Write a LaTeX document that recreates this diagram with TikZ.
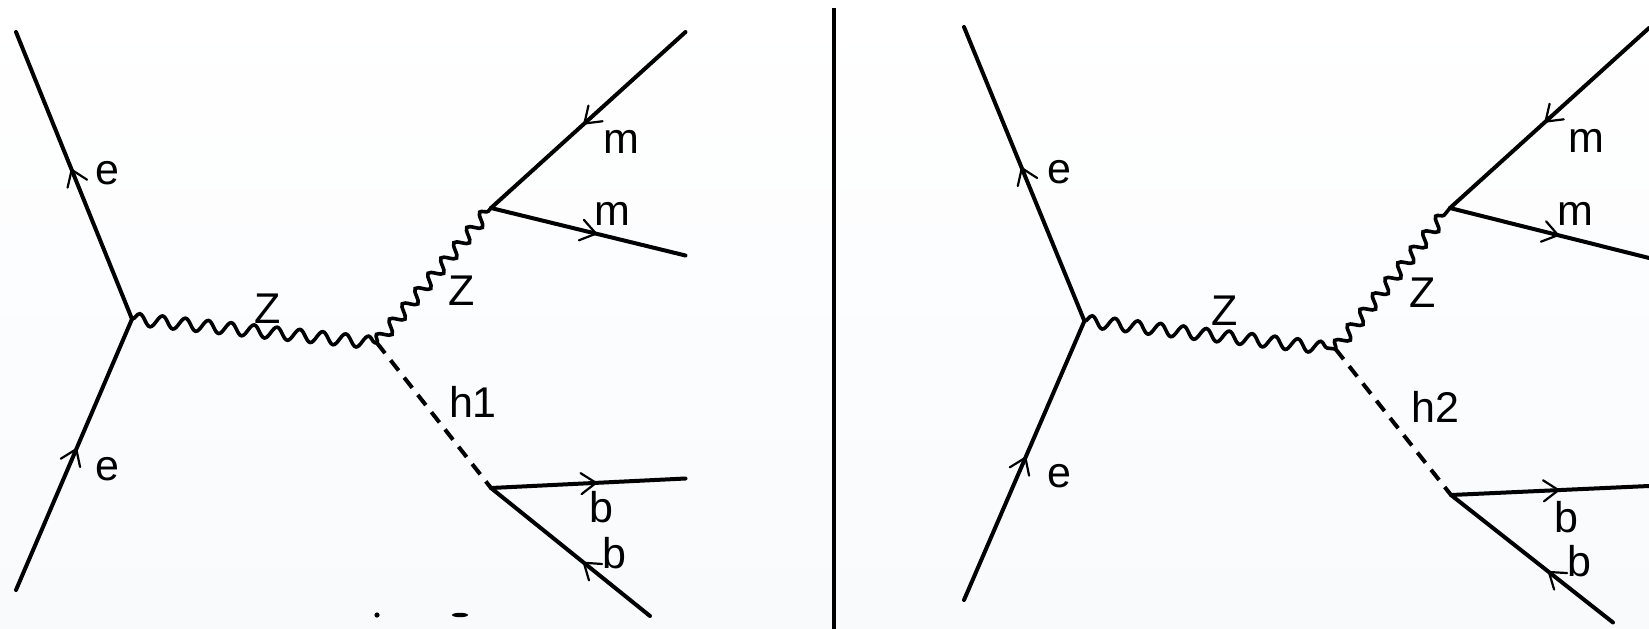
\documentclass[tikz,border=0pt]{standalone}
\usepackage{fontspec}
\setmainfont{Liberation Sans}
\usetikzlibrary{decorations.markings,decorations.pathmorphing}
\definecolor{bgbottom}{HTML}{F8FAFC}
\tikzset{
  x=1pt,y=-1pt,
  fermion/.style={line width=4pt,line cap=round,draw=black,postaction={decorate},
    decoration={markings,mark=at position #1 with {
      \draw[line width=2.2pt,line cap=round,line join=miter,solid] (-15pt,10.5pt) -- (0pt,0pt) -- (-15pt,-10.5pt);}}},
  boson/.style={line width=3.6pt,draw=black,decorate,decoration={snake,segment length=#1,amplitude=6pt}},
  scalar/.style={line width=4pt,draw=black,dash pattern=on 13pt off 9pt},
  lab/.style={font=\fontsize{43}{43}\selectfont,inner sep=0pt,text=black},
  divider/.style={line width=4.6pt,draw=black},
  speck/.style={fill=black,draw=none}
}
\begin{document}
\begin{tikzpicture}
\useasboundingbox (0,0) rectangle (1649,629);
\shade[top color=white,bottom color=bgbottom,draw=none] (0,0) rectangle (1649,629);
% divider
\coordinate (dtop) at (834,8);
\coordinate (dbot) at (834,629);
\draw[divider] (dtop) -- (dbot);
% left panel
\coordinate (atl) at (16,32);
\coordinate (av1) at (132,319);
\coordinate (abl) at (16,590);
\coordinate (av2) at (377,343);
\coordinate (av3) at (491,208);
\coordinate (atr) at (685.5,32);
\coordinate (amr) at (685.5,255.5);
\coordinate (av4) at (491,488);
\coordinate (abr) at (685.5,478.5);
\coordinate (abq) at (650,616);
\draw[fermion=0.52] (av1) -- (atl);
\draw[fermion=0.52] (abl) -- (av1);
\draw[boson=23pt] (av1) -- (av2);
\draw[boson=20pt] (av2) -- (av3);
\draw[scalar] (av2) -- (av4);
\draw[fermion=0.52] (atr) -- (av3);
\draw[fermion=0.54] (av3) -- (amr);
\draw[fermion=0.54] (av4) -- (abr);
\draw[fermion=0.416] (abq) -- (av4);
\node[lab] (ae1) at (107,173) {e};
\node[lab] (ae2) at (107,469) {e};
\node[lab] (am1) at (621,142) {m};
\node[lab] (am2) at (612.5,214) {m};
\node[lab] (az1) at (268,309) {Z};
\node[lab] (az2) at (462,291) {Z};
\node[lab] (ah) at (473,402) {h1};
\node[lab] (ab1) at (601,507) {b};
\node[lab] (ab2) at (614,553) {b};
\fill[speck] (377,615) circle (2.6pt);
\fill[speck] (460,615) ellipse (8pt and 2.2pt);
% right panel
\coordinate (btl) at (964,27);
\coordinate (bv1) at (1084.4,321);
\coordinate (bbl) at (964,600);
\coordinate (bv2) at (1335.5,349);
\coordinate (bv3) at (1450,208);
\coordinate (btr) at (1649,28);
\coordinate (bmr) at (1649,258);
\coordinate (bv4) at (1451,495);
\coordinate (bbr) at (1649,486);
\coordinate (bbq) at (1613,622.5);
\draw[fermion=0.52] (bv1) -- (btl);
\draw[fermion=0.51] (bbl) -- (bv1);
\draw[boson=23pt] (bv1) -- (bv2);
\draw[boson=20pt] (bv2) -- (bv3);
\draw[scalar] (bv2) -- (bv4);
\draw[fermion=0.52] (btr) -- (bv3);
\draw[fermion=0.543] (bv3) -- (bmr);
\draw[fermion=0.543] (bv4) -- (bbr);
\draw[fermion=0.396] (bbq) -- (bv4);
\node[lab] (be1) at (1059,172) {e};
\node[lab] (be2) at (1059,476) {e};
\node[lab] (bm1) at (1586,141) {m};
\node[lab] (bm2) at (1575,214) {m};
\node[lab] (bz1) at (1224.5,311) {Z};
\node[lab] (bz2) at (1423,293) {Z};
\node[lab] (bh) at (1435,407) {h2};
\node[lab] (bb1) at (1566,517) {b};
\node[lab] (bb2) at (1579,561) {b};
\end{tikzpicture}
\end{document}
